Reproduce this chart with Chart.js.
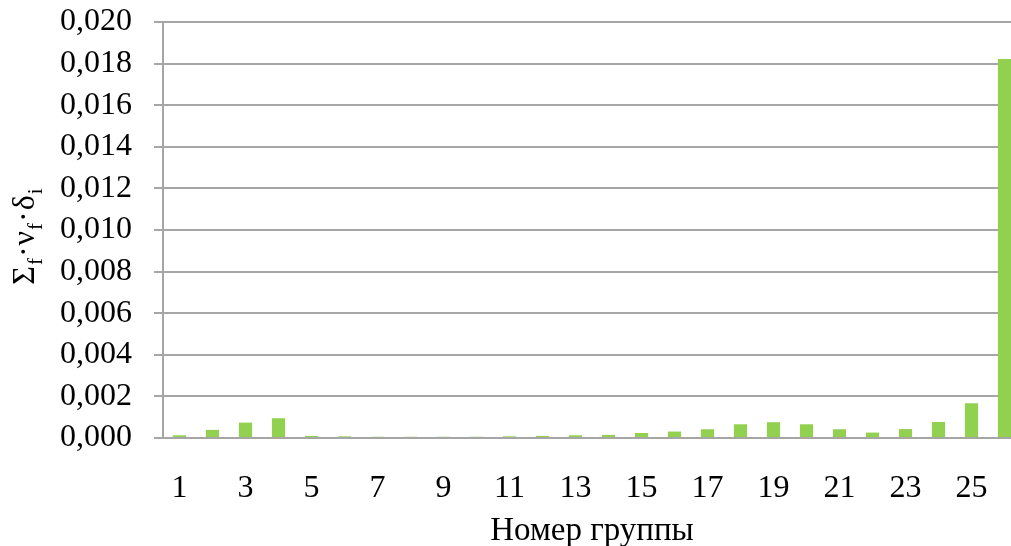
<!DOCTYPE html>
<html>
<head>
<meta charset="utf-8">
<script src="https://cdn.jsdelivr.net/npm/chart.js@4.4.1/dist/chart.umd.min.js"></script>
<style>
  html, body { margin: 0; padding: 0; background: #ffffff; overflow: hidden; }
  #wrap { position: relative; width: 1022px; height: 546px; }
</style>
</head>
<body>
<div id="wrap"><canvas id="chart"></canvas></div>
<script>
// Group numbers 1..26
const groups = ['1','2','3','4','5','6','7','8','9','10','11','12','13','14','15','16','17','18','19','20','21','22','23','24','25','26'];
// Σf·νf·δi per group
const values = [0.00013, 0.00039, 0.00074, 0.00095, 0.00010, 0.00008, 0.00006, 0.00006, 0.00006, 0.00006, 0.00008, 0.00010, 0.00013, 0.00015, 0.00024, 0.00031, 0.00042, 0.00066, 0.00076, 0.00066, 0.00042, 0.00026, 0.00043, 0.00077, 0.00167, 0.01822];
// Value axis range
const yMin = 0;
const yMax = 0.020;
const yStep = 0.002;

const SERIF = '"Liberation Serif", "Times New Roman", serif';
const GRID = '#a6a6a6';

// Rotated axis title with subscripts: Σf·νf·δi
const yTitlePlugin = {
  id: 'yTitle',
  afterDraw(chart) {
    const ctx = chart.ctx;
    const parts = [
      ['Σ', false], ['f', true], ['·', false], ['ν', false], ['f', true], ['·', false], ['δ', false], ['i', true]
    ];
    const big = '32px ' + SERIF;
    const small = '21px ' + SERIF;
    const gap = 1;
    ctx.save();
    let total = 0;
    const widths = parts.map(([t, sub]) => {
      ctx.font = sub ? small : big;
      const w = ctx.measureText(t).width + gap;
      total += w;
      return w;
    });
    const cx = 34, cy = 236;
    ctx.translate(cx, cy);
    ctx.rotate(-Math.PI / 2);
    ctx.fillStyle = '#000';
    ctx.textBaseline = 'alphabetic';
    ctx.textAlign = 'left';
    let x = -total / 2;
    parts.forEach(([t, sub], i) => {
      ctx.font = sub ? small : big;
      ctx.fillText(t, x, sub ? 8 : 0);
      x += widths[i];
    });
    ctx.restore();
  }
};

new Chart(document.getElementById('chart'), {
  type: 'bar',
  data: {
    labels: groups,
    datasets: [{
      data: values,
      backgroundColor: '#92d050',
      borderWidth: 0,
      barPercentage: 0.8,
      categoryPercentage: 0.5
    }]
  },
  options: {
    responsive: true,
    maintainAspectRatio: false,
    animation: false,
    layout: { padding: { top: 22, right: 1, left: 0, bottom: 0 } },
    plugins: {
      legend: { display: false },
      tooltip: { enabled: false }
    },
    scales: {
      x: {
        afterFit(scale) { scale.height = 108; scale.paddingLeft = 0; scale.paddingRight = 0; },
        grid: { display: true, drawOnChartArea: false, drawTicks: false, color: GRID },
        border: { display: true, color: GRID, width: 2 },
        ticks: {
          autoSkip: false,
          maxRotation: 0,
          padding: 31,
          color: '#000',
          font: { family: SERIF, size: 32 },
          callback: function (v, i) { return i % 2 === 0 ? groups[i] : ''; }
        },
        title: {
          display: true,
          text: 'Номер группы',
          color: '#000',
          font: { family: SERIF, size: 33 },
          padding: { top: 0, bottom: -5 }
        }
      },
      y: {
        min: yMin,
        max: yMax,
        afterFit(scale) { scale.width = 163; scale.paddingTop = 0; scale.paddingBottom = 0; },
        grid: { color: GRID, lineWidth: 2, tickLength: 9, drawTicks: true },
        border: { display: true, color: GRID, width: 2 },
        ticks: {
          stepSize: yStep,
          autoSkip: false,
          padding: 22,
          color: '#000',
          font: { family: SERIF, size: 32 },
          callback: function (v) { return v.toFixed(3).replace('.', ','); }
        }
      }
    }
  },
  plugins: [yTitlePlugin]
});
</script>
</body>
</html>
